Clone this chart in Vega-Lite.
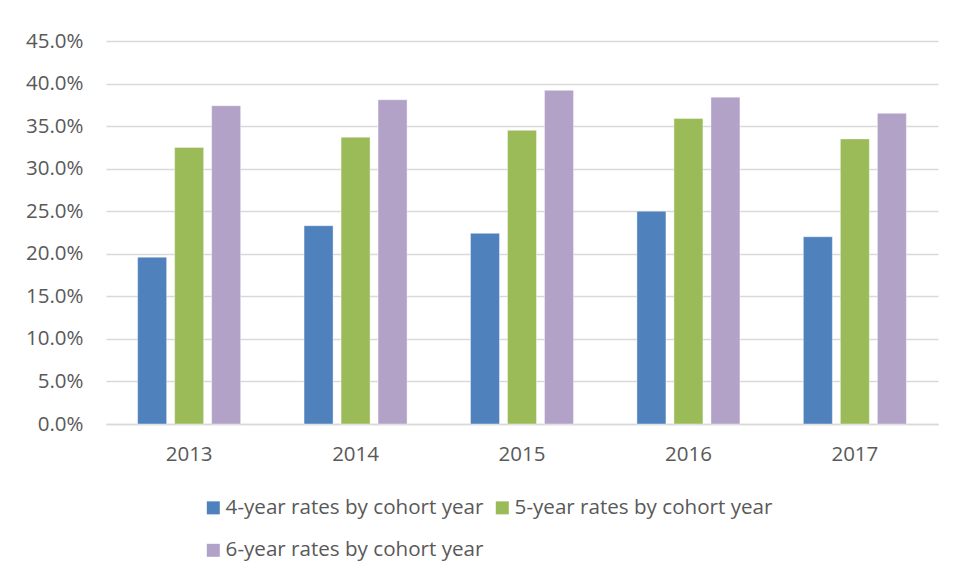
{
  "$schema": "https://vega.github.io/schema/vega-lite/v6.json",
  "width": 832,
  "height": 383,
  "autosize": {"type": "none"},
  "padding": {"left": 106, "top": 41, "right": 17, "bottom": 159},
  "background": "white",
  "config": {
    "view": {"stroke": null},
    "font": "Open Sans",
    "axis": {"labelFont": "Open Sans", "labelFontSize": 20.5, "labelColor": "#595959"},
    "legend": {"labelFont": "Open Sans", "labelFontSize": 20.6, "labelColor": "#595959", "labelLimit": 0}
  },
  "data": {
    "values": [
      {"year": "2013", "series": "4-year rates by cohort year", "rate": 0.196},
      {"year": "2013", "series": "5-year rates by cohort year", "rate": 0.325},
      {"year": "2013", "series": "6-year rates by cohort year", "rate": 0.374},
      {"year": "2014", "series": "4-year rates by cohort year", "rate": 0.233},
      {"year": "2014", "series": "5-year rates by cohort year", "rate": 0.337},
      {"year": "2014", "series": "6-year rates by cohort year", "rate": 0.381},
      {"year": "2015", "series": "4-year rates by cohort year", "rate": 0.224},
      {"year": "2015", "series": "5-year rates by cohort year", "rate": 0.345},
      {"year": "2015", "series": "6-year rates by cohort year", "rate": 0.392},
      {"year": "2016", "series": "4-year rates by cohort year", "rate": 0.250},
      {"year": "2016", "series": "5-year rates by cohort year", "rate": 0.359},
      {"year": "2016", "series": "6-year rates by cohort year", "rate": 0.384},
      {"year": "2017", "series": "4-year rates by cohort year", "rate": 0.220},
      {"year": "2017", "series": "5-year rates by cohort year", "rate": 0.335},
      {"year": "2017", "series": "6-year rates by cohort year", "rate": 0.365}
    ]
  },
  "mark": {"type": "bar", "stroke": "white", "strokeOpacity": 0.5, "strokeWidth": 0.8},
  "encoding": {
    "x": {
      "field": "year",
      "type": "nominal",
      "title": null,
      "scale": {"paddingInner": 0.381, "paddingOuter": 0.19},
      "axis": {"labelAngle": 0, "ticks": false, "domainColor": "#D9D9D9", "domainWidth": 1.3, "labelPadding": 20}
    },
    "xOffset": {
      "field": "series",
      "scale": {"paddingInner": 0.216, "paddingOuter": 0}
    },
    "y": {
      "field": "rate",
      "type": "quantitative",
      "title": null,
      "scale": {"domain": [0, 0.45], "nice": false},
      "axis": {
        "values": [0, 0.05, 0.1, 0.15, 0.2, 0.25, 0.3, 0.35, 0.4, 0.45],
        "format": ".1%",
        "domain": false,
        "ticks": false,
        "gridColor": "#D9D9D9",
        "gridWidth": 1.3,
        "labelPadding": 23
      }
    },
    "color": {
      "field": "series",
      "type": "nominal",
      "scale": {"range": ["#4F81BD", "#9BBB59", "#B3A2C7"]},
      "legend": {
        "title": null,
        "orient": "none",
        "legendX": 97,
        "legendY": 456.5,
        "direction": "horizontal",
        "columns": 2,
        "columnPadding": 8,
        "rowPadding": 21.5,
        "symbolType": "square",
        "symbolSize": 169,
        "symbolStrokeWidth": 0,
        "symbolOffset": 0,
        "labelOffset": 2,
        "padding": 0
      }
    }
  }
}
